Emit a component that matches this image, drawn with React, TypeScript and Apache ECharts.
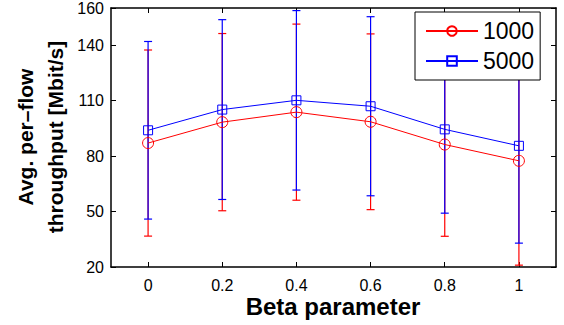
import React, { useEffect, useRef } from "react";
import * as echarts from "echarts";

const betaValues = [0, 0.2, 0.4, 0.6, 0.8, 1];
const mean1000 = [87, 98.3, 103.7, 98.5, 86.2, 77.4];
const err1000 = [50.3, 47.9, 47.6, 47.5, 49.6, 56.4];
const mean5000 = [93.9, 105.1, 110.1, 106.9, 94.4, 85.5];
const err5000 = [48.0, 48.6, 48.5, 48.4, 45.3, 52.6];
const xTicks = [0, 0.2, 0.4, 0.6, 0.8, 1];
const yTicks = [20, 50, 80, 110, 140, 160];
const seriesNames = ["1000", "5000"];

const FONT = "'Liberation Sans', Arial, Helvetica, sans-serif";

function errorSeries(name: string, color: string, means: number[], errs: number[]) {
  return {
    type: "custom",
    name,
    xAxisIndex: 0,
    yAxisIndex: 0,
    silent: true,
    data: betaValues.map((x, i) => [x, means[i] - errs[i], means[i] + errs[i]]),
    renderItem: (params: any, api: any) => {
      const x = api.value(0);
      const lo = api.coord([x, api.value(1)]);
      const hi = api.coord([x, api.value(2)]);
      const cw = 4;
      const style = { stroke: color, lineWidth: 1.2 };
      return {
        type: "group",
        children: [
          { type: "line", shape: { x1: lo[0], y1: lo[1], x2: hi[0], y2: hi[1] }, style },
          { type: "line", shape: { x1: lo[0] - cw, y1: lo[1], x2: lo[0] + cw, y2: lo[1] }, style },
          { type: "line", shape: { x1: hi[0] - cw, y1: hi[1], x2: hi[0] + cw, y2: hi[1] }, style },
        ],
      };
    },
  };
}

function lineSeries(name: string, color: string, means: number[], symbol: string, size: number) {
  return {
    type: "line",
    name,
    xAxisIndex: 0,
    yAxisIndex: 0,
    data: betaValues.map((x, i) => [x, means[i]]),
    symbol,
    symbolSize: size,
    showAllSymbol: true,
    lineStyle: { color, width: 1 },
    itemStyle: { color: "transparent", borderColor: color, borderWidth: 1 },
    emphasis: { disabled: true },
  };
}

const axisCommon = {
  axisLine: { show: true, onZero: false, lineStyle: { color: "#000", width: 1.5 } },
  splitLine: { show: false },
};

export default function App() {
  const ref = useRef<HTMLDivElement>(null);
  useEffect(() => {
    if (!ref.current) return;
    const chart = echarts.init(ref.current, undefined, { renderer: "svg" });
    chart.setOption({
      animation: false,
      backgroundColor: "#fff",
      textStyle: { fontFamily: FONT },
      grid: { left: 111, right: 8, top: 6, bottom: 58, containLabel: false },
      xAxis: [
        {
          type: "value",
          min: -0.1,
          max: 1.1,
          position: "bottom",
          ...axisCommon,
          axisTick: { show: true, inside: true, length: 5, customValues: xTicks, lineStyle: { color: "#000" } },
          axisLabel: {
            show: true,
            customValues: xTicks,
            color: "#000",
            fontSize: 16,
            fontFamily: FONT,
            margin: 10,
            formatter: (v: number) => String(v),
          },
        },
        {
          type: "value",
          min: -0.1,
          max: 1.1,
          position: "top",
          ...axisCommon,
          axisTick: { show: true, inside: true, length: 5, customValues: xTicks, lineStyle: { color: "#000" } },
          axisLabel: { show: false },
        },
      ],
      yAxis: [
        {
          type: "value",
          min: 20,
          max: 160,
          position: "left",
          ...axisCommon,
          axisTick: { show: true, inside: true, length: 5, customValues: yTicks, lineStyle: { color: "#000" } },
          axisLabel: {
            show: true,
            customValues: yTicks,
            color: "#000",
            fontSize: 16,
            fontFamily: FONT,
            margin: 7,
          },
        },
        {
          type: "value",
          min: 20,
          max: 160,
          position: "right",
          ...axisCommon,
          axisTick: { show: true, inside: true, length: 5, customValues: yTicks, lineStyle: { color: "#000" } },
          axisLabel: { show: false },
        },
      ],
      legend: {
        data: seriesNames,
        orient: "vertical",
        left: 415,
        top: 12,
        padding: [7, 6, 7, 10],
        itemGap: 6,
        itemWidth: 52,
        itemHeight: 12,
        backgroundColor: "#fff",
        borderColor: "#000",
        borderWidth: 1,
        borderRadius: 0,
        textStyle: { fontSize: 23, lineHeight: 24, color: "#000", fontFamily: FONT },
      },
      series: [
        errorSeries("err1000", "#ff0000", mean1000, err1000),
        lineSeries(seriesNames[0], "#ff0000", mean1000, "circle", 11),
        errorSeries("err5000", "#0000ff", mean5000, err5000),
        lineSeries(seriesNames[1], "#0000ff", mean5000, "rect", 9),
      ],
      graphic: [
        {
          type: "text",
          x: 40,
          y: 137,
          rotation: Math.PI / 2,
          style: {
            text: "Avg. per–flow\nthroughput [Mbit/s]",
            fontSize: 21,
            fontWeight: "bold",
            fontFamily: FONT,
            fill: "#000",
            align: "center",
            verticalAlign: "middle",
            lineHeight: 30,
          },
        },
        {
          type: "text",
          x: 333,
          y: 306,
          style: {
            text: "Beta parameter",
            fontSize: 24,
            fontWeight: "bold",
            fontFamily: FONT,
            fill: "#000",
            align: "center",
            verticalAlign: "middle",
          },
        },
      ],
    });
    return () => chart.dispose();
  }, []);
  return <div ref={ref} style={{ width: 564, height: 325, position: "absolute", left: 0, top: 0 }} />;
}
